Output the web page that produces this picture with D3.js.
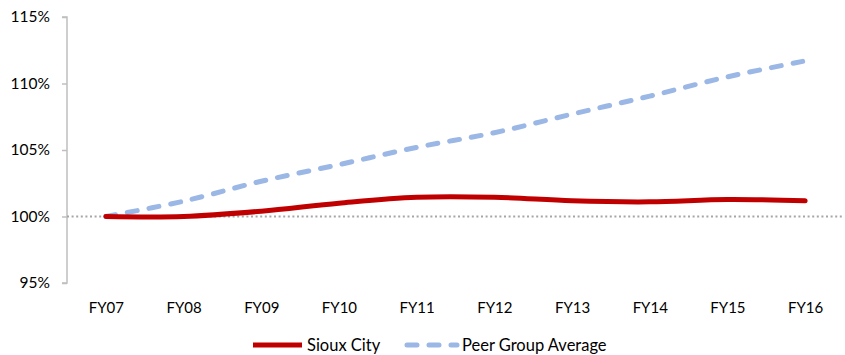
<!DOCTYPE html>
<html>
<head>
<meta charset="utf-8">
<script src="https://cdn.jsdelivr.net/npm/d3@7"></script>
<style>
  html, body { margin: 0; padding: 0; background: #fff; }
  svg text { font-family: Lato, "Open Sans", sans-serif; fill: #000; }
</style>
</head>
<body>
<svg id="chart" width="845" height="355"></svg>
<script>
// Fiscal years on the x axis
const years = ["FY07", "FY08", "FY09", "FY10", "FY11", "FY12", "FY13", "FY14", "FY15", "FY16"];
// Index values, FY07 = 100%
const siouxCity = [100.0, 100.0, 100.4, 101.0, 101.45, 101.45, 101.18, 101.1, 101.28, 101.18];
const peerAverage = [100.0, 101.15, 102.65, 103.9, 105.2, 106.3, 107.7, 109.05, 110.5, 111.7];
const yTicks = [95, 100, 105, 110, 115];
const seriesNames = ["Sioux City", "Peer Group Average"];

(function () {
  const svg = d3.select("#chart");
  const plotLeft = 67, plotRight = 844, plotTop = 17, plotBottom = 283;

  const x = d3.scalePoint().domain(years).range([plotLeft, plotRight]).padding(0.5);
  const y = d3.scaleLinear().domain([95, 115]).range([plotBottom, plotTop]);

  // Y axis
  const yAxis = svg.append("g")
    .attr("transform", `translate(${plotLeft},0)`)
    .call(d3.axisLeft(y).tickValues(yTicks).tickSize(5).tickPadding(12).tickFormat(d => d + "%"));
  yAxis.select(".domain").attr("stroke", "#BFBFBF").attr("stroke-width", 1.5)
    .attr("d", `M-5,${y(115)}H0V${y(95)}H-5`);
  yAxis.selectAll(".tick line").attr("stroke", "#BFBFBF").attr("stroke-width", 1.5);
  yAxis.selectAll(".tick text").style("font-size", "15.5px").attr("fill", "#000");

  // Dotted baseline at 100%
  svg.append("line")
    .attr("x1", plotLeft).attr("x2", plotRight)
    .attr("y1", y(100)).attr("y2", y(100))
    .attr("stroke", "#A6A6A6").attr("stroke-width", 2)
    .attr("stroke-dasharray", "2,2.6");

  // X axis labels
  const xAxis = svg.append("g")
    .attr("transform", `translate(0,${plotBottom})`)
    .call(d3.axisBottom(x).tickSize(0).tickPadding(19));
  xAxis.select(".domain").remove();
  xAxis.selectAll(".tick text").style("font-size", "15px").attr("fill", "#000");

  const line = d3.line()
    .x((d, i) => x(years[i]))
    .y(d => y(d))
    .curve(d3.curveCatmullRom.alpha(0.5));

  // Peer group average (dashed)
  svg.append("path")
    .datum(peerAverage)
    .attr("d", line)
    .attr("fill", "none")
    .attr("stroke", "#9BB7E5")
    .attr("stroke-width", 5)
    .attr("stroke-linecap", "round")
    .attr("stroke-dasharray", "10,12");

  // Sioux City (solid)
  svg.append("path")
    .datum(siouxCity)
    .attr("d", line)
    .attr("fill", "none")
    .attr("stroke", "#C00000")
    .attr("stroke-width", 5)
    .attr("stroke-linecap", "round");

  // Legend
  const legend = svg.append("g");
  const ly = 345;
  legend.append("line")
    .attr("x1", 253).attr("x2", 302).attr("y1", ly).attr("y2", ly)
    .attr("stroke", "#C00000").attr("stroke-width", 5);
  legend.append("text")
    .attr("x", 307).attr("y", ly + 5.5).style("font-size", "16.5px").text(seriesNames[0]);
  legend.append("line")
    .attr("x1", 407).attr("x2", 457).attr("y1", ly).attr("y2", ly)
    .attr("stroke", "#9BB7E5").attr("stroke-width", 5)
    .attr("stroke-linecap", "round").attr("stroke-dasharray", "10,12");
  legend.append("text")
    .attr("x", 462).attr("y", ly + 5.5).style("font-size", "16.5px").text(seriesNames[1]);
})();
</script>
</body>
</html>
